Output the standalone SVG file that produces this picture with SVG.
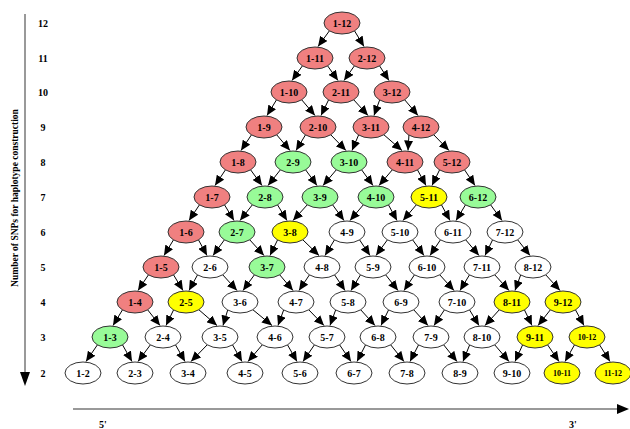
<svg xmlns="http://www.w3.org/2000/svg" width="630" height="429" viewBox="0 0 630 429">
<defs>
<style>
.n ellipse{stroke:#333;stroke-width:1}
.r ellipse{fill:#f08080}
.g ellipse{fill:#98fb98}
.y ellipse{fill:#ffff00}
.w ellipse{fill:#ffffff}
text{font-family:"Liberation Serif","Times New Roman",serif;font-weight:bold;font-size:10px;fill:#000}
.n text{text-anchor:middle}
.s text{font-size:8px}
.lab{text-anchor:middle}
.vlab{font-size:9.5px}
#edges path{stroke:#000;stroke-width:1;fill:none;marker-end:url(#ah)}
.axis{stroke:#999;stroke-width:2}
</style>
<marker id="ah" markerUnits="userSpaceOnUse" markerWidth="10" markerHeight="9" viewBox="0 0 10 9" refX="10" refY="4.5" orient="auto">
<path d="M0,0 L10,4.5 L0,9 z" fill="#000"/>
</marker>
</defs>
<rect width="630" height="429" fill="#fff"/>
<g id="axes">
<line class="axis" x1="25" y1="14" x2="25" y2="374"/>
<polygon points="20,372 30,372 25,386" fill="#000"/>
<line class="axis" x1="73" y1="409" x2="619" y2="409"/>
<polygon points="617,404 629,409 617,414" fill="#000"/>
<text class="lab vlab" transform="translate(18,198) rotate(-90)">Number of SNPs for haplotype construction</text>
<text class="lab" x="43" y="27">12</text>
<text class="lab" x="43" y="62">11</text>
<text class="lab" x="43" y="96">10</text>
<text class="lab" x="43" y="131">9</text>
<text class="lab" x="43" y="166">8</text>
<text class="lab" x="43" y="201">7</text>
<text class="lab" x="43" y="236">6</text>
<text class="lab" x="43" y="271">5</text>
<text class="lab" x="43" y="306">4</text>
<text class="lab" x="43" y="341">3</text>
<text class="lab" x="43" y="377">2</text>
<text class="lab" x="103" y="428">5'</text>
<text class="lab" x="573" y="428">3'</text>
</g>
<g id="edges">
<path d="M330,30 L318,46.5"/><path d="M354,30 L364,46.5"/>
<path d="M303,65 L292,80.5"/><path d="M327,65 L338,80.5"/>
<path d="M355,65 L344,80.5"/><path d="M379,65 L389,80.5"/>
<path d="M277,99 L267,115.5"/><path d="M301,99 L315,115.5"/>
<path d="M329,99 L321,115.5"/><path d="M353,99 L368,115.5"/>
<path d="M380,99 L374,115.5"/><path d="M404,99 L418,115.5"/>
<path d="M252,134 L241,150.5"/><path d="M276,134 L290,150.5"/>
<path d="M306,134 L296,150.5"/><path d="M330,134 L346,150.5"/>
<path d="M359,134 L352,150.5"/><path d="M383,134 L402,150.5"/>
<path d="M409,134 L408,150.5"/><path d="M433,134 L449,150.5"/>
<path d="M226,169 L215,185.5"/><path d="M250,169 L262,185.5"/>
<path d="M281,169 L268,185.5"/><path d="M305,169 L317,185.5"/>
<path d="M337,169 L323,185.5"/><path d="M361,169 L373,185.5"/>
<path d="M393,169 L379,185.5"/><path d="M417,169 L426,185.5"/>
<path d="M440,169 L432,185.5"/><path d="M464,169 L475,185.5"/>
<path d="M200,204 L189,220.5"/><path d="M224,204 L234,220.5"/>
<path d="M253,204 L240,220.5"/><path d="M277,204 L287,220.5"/>
<path d="M308,204 L293,220.5"/><path d="M332,204 L344,220.5"/>
<path d="M364,204 L350,220.5"/><path d="M388,204 L397,220.5"/>
<path d="M417,204 L403,220.5"/><path d="M441,204 L450,220.5"/>
<path d="M466,204 L456,220.5"/><path d="M490,204 L502,220.5"/>
<path d="M174,239 L164,255.5"/><path d="M198,239 L207,255.5"/>
<path d="M225,239 L213,255.5"/><path d="M249,239 L264,255.5"/>
<path d="M278,239 L270,255.5"/><path d="M302,239 L319,255.5"/>
<path d="M335,239 L325,255.5"/><path d="M359,239 L370,255.5"/>
<path d="M388,239 L376,255.5"/><path d="M412,239 L424,255.5"/>
<path d="M441,239 L430,255.5"/><path d="M465,239 L479,255.5"/>
<path d="M493,239 L485,255.5"/><path d="M517,239 L530,255.5"/>
<path d="M149,274 L138,290.5"/><path d="M173,274 L183,290.5"/>
<path d="M198,274 L189,290.5"/><path d="M222,274 L237,290.5"/>
<path d="M255,274 L243,290.5"/><path d="M279,274 L293,290.5"/>
<path d="M310,274 L299,290.5"/><path d="M334,274 L345,290.5"/>
<path d="M361,274 L351,290.5"/><path d="M385,274 L398,290.5"/>
<path d="M415,274 L404,290.5"/><path d="M439,274 L454,290.5"/>
<path d="M470,274 L460,290.5"/><path d="M494,274 L509,290.5"/>
<path d="M521,274 L515,290.5"/><path d="M545,274 L560,290.5"/>
<path d="M123,309 L113,325.5"/><path d="M147,309 L160,325.5"/>
<path d="M174,309 L166,325.5"/><path d="M198,309 L217,325.5"/>
<path d="M228,309 L223,325.5"/><path d="M252,309 L272,325.5"/>
<path d="M284,309 L278,325.5"/><path d="M308,309 L324,325.5"/>
<path d="M336,309 L330,325.5"/><path d="M360,309 L375,325.5"/>
<path d="M389,309 L381,325.5"/><path d="M413,309 L428,325.5"/>
<path d="M445,309 L434,325.5"/><path d="M469,309 L479,325.5"/>
<path d="M500,309 L485,325.5"/><path d="M524,309 L532,325.5"/>
<path d="M551,309 L538,325.5"/><path d="M575,309 L584,325.5"/>
<path d="M98,344 L86,361.5"/><path d="M122,344 L132,361.5"/>
<path d="M151,344 L138,361.5"/><path d="M175,344 L185,361.5"/>
<path d="M208,344 L191,361.5"/><path d="M232,344 L242,361.5"/>
<path d="M263,344 L248,361.5"/><path d="M287,344 L297,361.5"/>
<path d="M315,344 L303,361.5"/><path d="M339,344 L351,361.5"/>
<path d="M366,344 L357,361.5"/><path d="M390,344 L404,361.5"/>
<path d="M419,344 L410,361.5"/><path d="M443,344 L457,361.5"/>
<path d="M470,344 L463,361.5"/><path d="M494,344 L509,361.5"/>
<path d="M523,344 L515,361.5"/><path d="M547,344 L559,361.5"/>
<path d="M575,344 L565,361.5"/><path d="M599,344 L610,361.5"/>
</g>
<g id="n1-12" class="n r"><ellipse cx="342" cy="23" rx="18" ry="11"/><text x="342" y="27">1-12</text></g>
<g id="n1-11" class="n r"><ellipse cx="315" cy="58" rx="18" ry="11"/><text x="315" y="62">1-11</text></g>
<g id="n2-12" class="n r"><ellipse cx="367" cy="58" rx="18" ry="11"/><text x="367" y="62">2-12</text></g>
<g id="n1-10" class="n r"><ellipse cx="289" cy="92" rx="18" ry="11"/><text x="289" y="96">1-10</text></g>
<g id="n2-11" class="n r"><ellipse cx="341" cy="92" rx="18" ry="11"/><text x="341" y="96">2-11</text></g>
<g id="n3-12" class="n r"><ellipse cx="392" cy="92" rx="18" ry="11"/><text x="392" y="96">3-12</text></g>
<g id="n1-9" class="n r"><ellipse cx="264" cy="127" rx="18" ry="11"/><text x="264" y="131">1-9</text></g>
<g id="n2-10" class="n r"><ellipse cx="318" cy="127" rx="18" ry="11"/><text x="318" y="131">2-10</text></g>
<g id="n3-11" class="n r"><ellipse cx="371" cy="127" rx="18" ry="11"/><text x="371" y="131">3-11</text></g>
<g id="n4-12" class="n r"><ellipse cx="421" cy="127" rx="18" ry="11"/><text x="421" y="131">4-12</text></g>
<g id="n1-8" class="n r"><ellipse cx="238" cy="162" rx="18" ry="11"/><text x="238" y="166">1-8</text></g>
<g id="n2-9" class="n g"><ellipse cx="293" cy="162" rx="18" ry="11"/><text x="293" y="166">2-9</text></g>
<g id="n3-10" class="n g"><ellipse cx="349" cy="162" rx="18" ry="11"/><text x="349" y="166">3-10</text></g>
<g id="n4-11" class="n r"><ellipse cx="405" cy="162" rx="18" ry="11"/><text x="405" y="166">4-11</text></g>
<g id="n5-12" class="n r"><ellipse cx="452" cy="162" rx="18" ry="11"/><text x="452" y="166">5-12</text></g>
<g id="n1-7" class="n r"><ellipse cx="212" cy="197" rx="18" ry="11"/><text x="212" y="201">1-7</text></g>
<g id="n2-8" class="n g"><ellipse cx="265" cy="197" rx="18" ry="11"/><text x="265" y="201">2-8</text></g>
<g id="n3-9" class="n g"><ellipse cx="320" cy="197" rx="18" ry="11"/><text x="320" y="201">3-9</text></g>
<g id="n4-10" class="n g"><ellipse cx="376" cy="197" rx="18" ry="11"/><text x="376" y="201">4-10</text></g>
<g id="n5-11" class="n y"><ellipse cx="429" cy="197" rx="18" ry="11"/><text x="429" y="201">5-11</text></g>
<g id="n6-12" class="n g"><ellipse cx="478" cy="197" rx="18" ry="11"/><text x="478" y="201">6-12</text></g>
<g id="n1-6" class="n r"><ellipse cx="186" cy="232" rx="18" ry="11"/><text x="186" y="236">1-6</text></g>
<g id="n2-7" class="n g"><ellipse cx="237" cy="232" rx="18" ry="11"/><text x="237" y="236">2-7</text></g>
<g id="n3-8" class="n y"><ellipse cx="290" cy="232" rx="18" ry="11"/><text x="290" y="236">3-8</text></g>
<g id="n4-9" class="n w"><ellipse cx="347" cy="232" rx="18" ry="11"/><text x="347" y="236">4-9</text></g>
<g id="n5-10" class="n w"><ellipse cx="400" cy="232" rx="18" ry="11"/><text x="400" y="236">5-10</text></g>
<g id="n6-11" class="n w"><ellipse cx="453" cy="232" rx="18" ry="11"/><text x="453" y="236">6-11</text></g>
<g id="n7-12" class="n w"><ellipse cx="505" cy="232" rx="18" ry="11"/><text x="505" y="236">7-12</text></g>
<g id="n1-5" class="n r"><ellipse cx="161" cy="267" rx="18" ry="11"/><text x="161" y="271">1-5</text></g>
<g id="n2-6" class="n w"><ellipse cx="210" cy="267" rx="18" ry="11"/><text x="210" y="271">2-6</text></g>
<g id="n3-7" class="n g"><ellipse cx="267" cy="267" rx="18" ry="11"/><text x="267" y="271">3-7</text></g>
<g id="n4-8" class="n w"><ellipse cx="322" cy="267" rx="18" ry="11"/><text x="322" y="271">4-8</text></g>
<g id="n5-9" class="n w"><ellipse cx="373" cy="267" rx="18" ry="11"/><text x="373" y="271">5-9</text></g>
<g id="n6-10" class="n w"><ellipse cx="427" cy="267" rx="18" ry="11"/><text x="427" y="271">6-10</text></g>
<g id="n7-11" class="n w"><ellipse cx="482" cy="267" rx="18" ry="11"/><text x="482" y="271">7-11</text></g>
<g id="n8-12" class="n w"><ellipse cx="533" cy="267" rx="18" ry="11"/><text x="533" y="271">8-12</text></g>
<g id="n1-4" class="n r"><ellipse cx="135" cy="302" rx="18" ry="11"/><text x="135" y="306">1-4</text></g>
<g id="n2-5" class="n y"><ellipse cx="186" cy="302" rx="18" ry="11"/><text x="186" y="306">2-5</text></g>
<g id="n3-6" class="n w"><ellipse cx="240" cy="302" rx="18" ry="11"/><text x="240" y="306">3-6</text></g>
<g id="n4-7" class="n w"><ellipse cx="296" cy="302" rx="18" ry="11"/><text x="296" y="306">4-7</text></g>
<g id="n5-8" class="n w"><ellipse cx="348" cy="302" rx="18" ry="11"/><text x="348" y="306">5-8</text></g>
<g id="n6-9" class="n w"><ellipse cx="401" cy="302" rx="18" ry="11"/><text x="401" y="306">6-9</text></g>
<g id="n7-10" class="n w"><ellipse cx="457" cy="302" rx="18" ry="11"/><text x="457" y="306">7-10</text></g>
<g id="n8-11" class="n y"><ellipse cx="512" cy="302" rx="18" ry="11"/><text x="512" y="306">8-11</text></g>
<g id="n9-12" class="n y"><ellipse cx="563" cy="302" rx="18" ry="11"/><text x="563" y="306">9-12</text></g>
<g id="n1-3" class="n g"><ellipse cx="110" cy="337" rx="18" ry="11"/><text x="110" y="341">1-3</text></g>
<g id="n2-4" class="n w"><ellipse cx="163" cy="337" rx="18" ry="11"/><text x="163" y="341">2-4</text></g>
<g id="n3-5" class="n w"><ellipse cx="220" cy="337" rx="18" ry="11"/><text x="220" y="341">3-5</text></g>
<g id="n4-6" class="n w"><ellipse cx="275" cy="337" rx="18" ry="11"/><text x="275" y="341">4-6</text></g>
<g id="n5-7" class="n w"><ellipse cx="327" cy="337" rx="18" ry="11"/><text x="327" y="341">5-7</text></g>
<g id="n6-8" class="n w"><ellipse cx="378" cy="337" rx="18" ry="11"/><text x="378" y="341">6-8</text></g>
<g id="n7-9" class="n w"><ellipse cx="431" cy="337" rx="18" ry="11"/><text x="431" y="341">7-9</text></g>
<g id="n8-10" class="n w"><ellipse cx="482" cy="337" rx="18" ry="11"/><text x="482" y="341">8-10</text></g>
<g id="n9-11" class="n y"><ellipse cx="535" cy="337" rx="18" ry="11"/><text x="535" y="341">9-11</text></g>
<g id="n10-12" class="n y s"><ellipse cx="587" cy="337" rx="18" ry="11"/><text x="587" y="340">10-12</text></g>
<g id="n1-2" class="n w"><ellipse cx="83" cy="373" rx="18" ry="11"/><text x="83" y="377">1-2</text></g>
<g id="n2-3" class="n w"><ellipse cx="135" cy="373" rx="18" ry="11"/><text x="135" y="377">2-3</text></g>
<g id="n3-4" class="n w"><ellipse cx="188" cy="373" rx="18" ry="11"/><text x="188" y="377">3-4</text></g>
<g id="n4-5" class="n w"><ellipse cx="245" cy="373" rx="18" ry="11"/><text x="245" y="377">4-5</text></g>
<g id="n5-6" class="n w"><ellipse cx="300" cy="373" rx="18" ry="11"/><text x="300" y="377">5-6</text></g>
<g id="n6-7" class="n w"><ellipse cx="354" cy="373" rx="18" ry="11"/><text x="354" y="377">6-7</text></g>
<g id="n7-8" class="n w"><ellipse cx="407" cy="373" rx="18" ry="11"/><text x="407" y="377">7-8</text></g>
<g id="n8-9" class="n w"><ellipse cx="460" cy="373" rx="18" ry="11"/><text x="460" y="377">8-9</text></g>
<g id="n9-10" class="n w"><ellipse cx="512" cy="373" rx="18" ry="11"/><text x="512" y="377">9-10</text></g>
<g id="n10-11" class="n y s"><ellipse cx="562" cy="373" rx="18" ry="11"/><text x="562" y="376">10-11</text></g>
<g id="n11-12" class="n y s"><ellipse cx="613" cy="373" rx="18" ry="11"/><text x="613" y="376">11-12</text></g>
</svg>
